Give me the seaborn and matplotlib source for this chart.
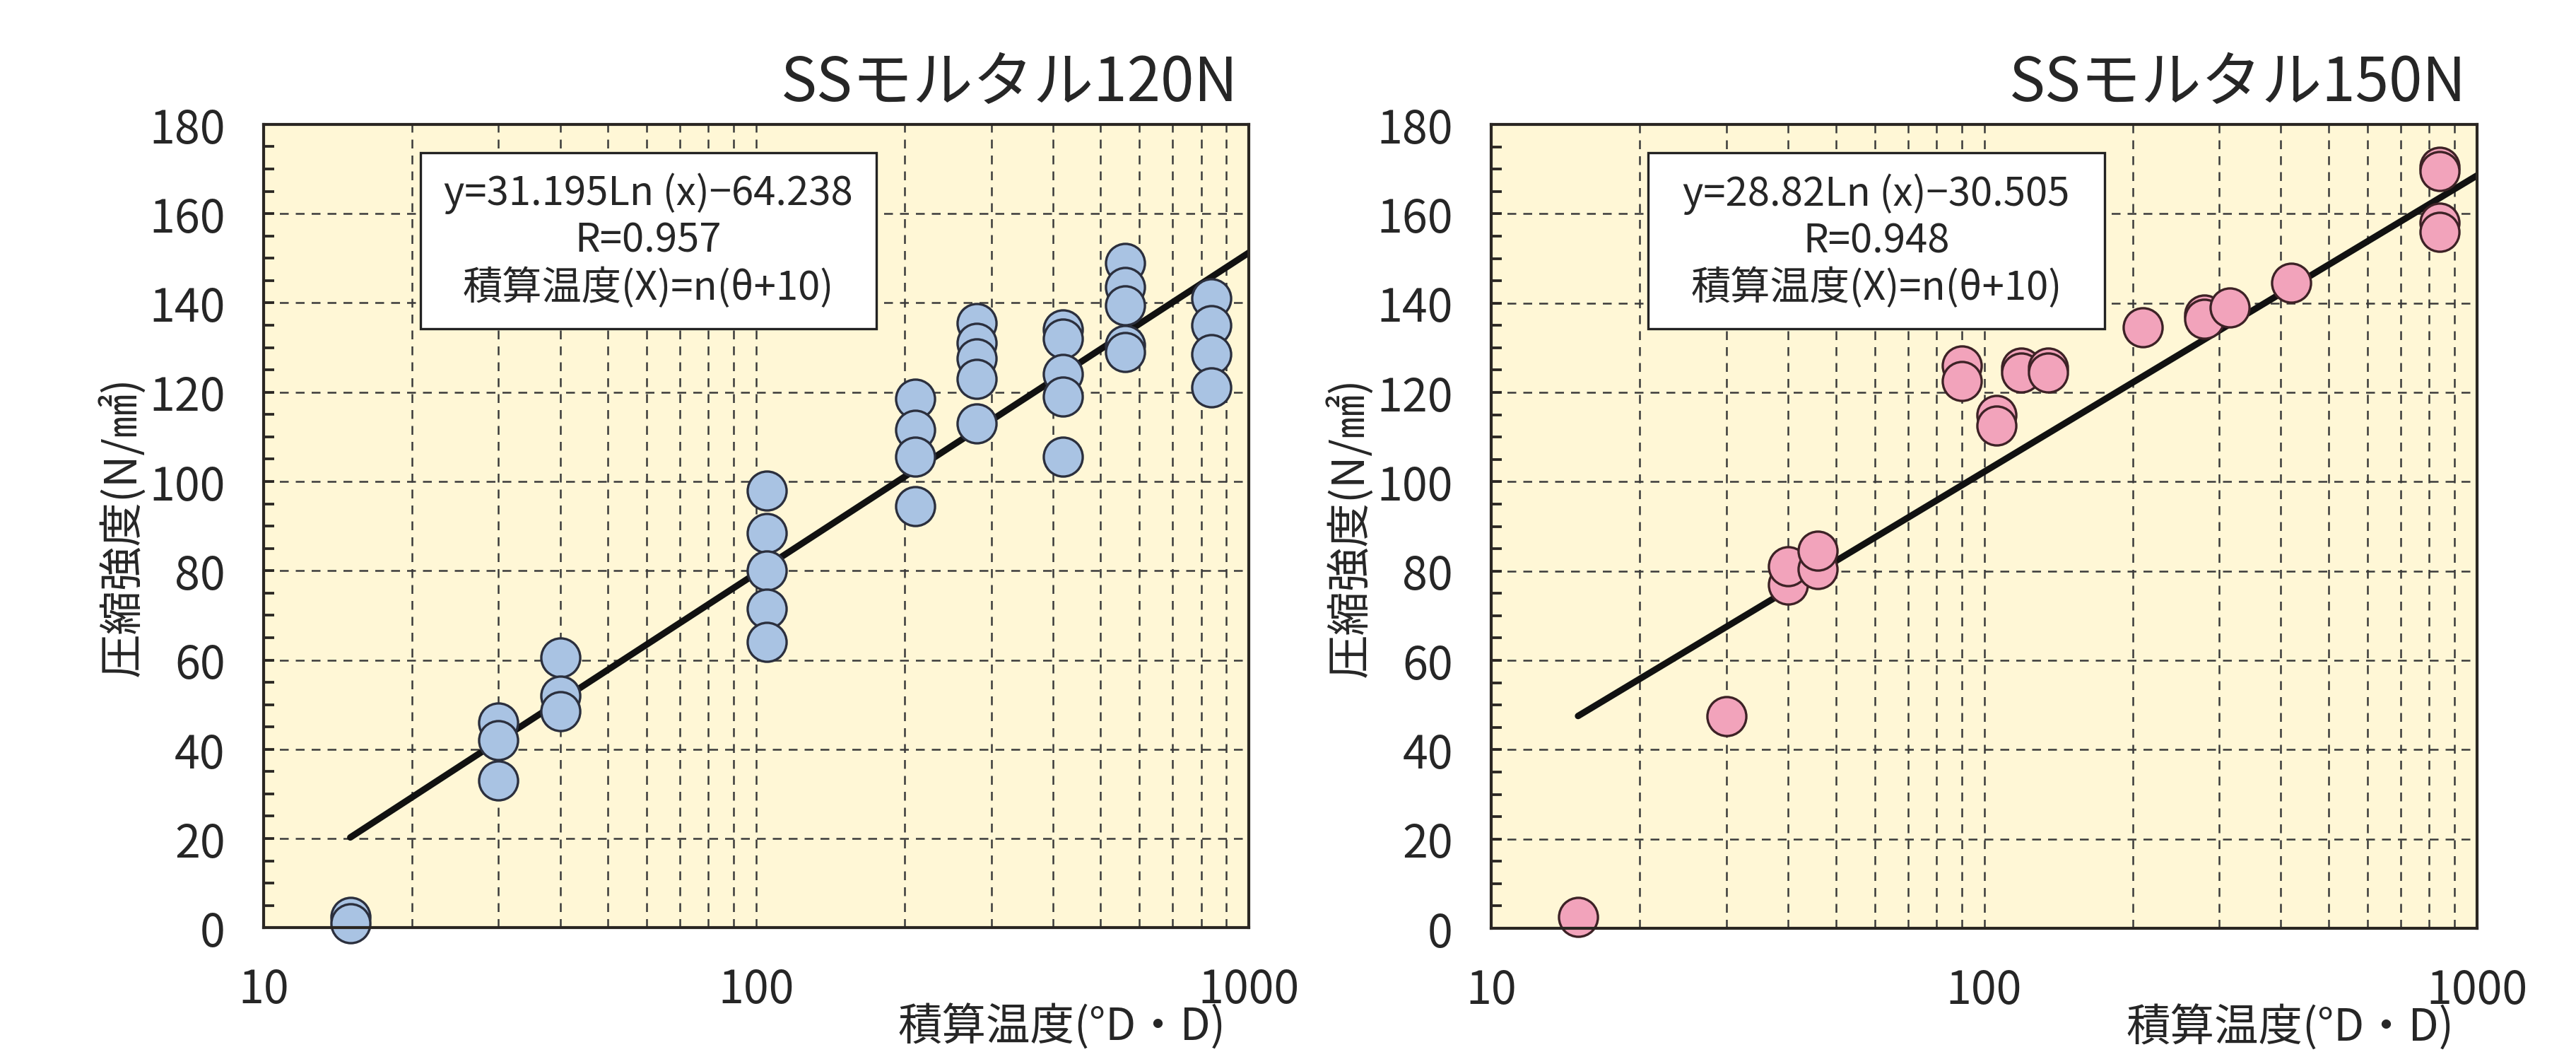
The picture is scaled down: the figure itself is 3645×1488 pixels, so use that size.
import numpy as np
import pandas as pd
import matplotlib.pyplot as plt
import seaborn as sns
from matplotlib.ticker import MultipleLocator, LogLocator, NullFormatter
from matplotlib.patches import Rectangle

sns.set_style("white")
plt.rcParams["font.family"] = ["Noto Sans CJK JP", "DejaVu Sans"]

# SSモルタル120N (読み取り値)
x_120 = [15, 15, 30, 30, 30, 40, 40, 40, 105, 105, 105, 105, 105,
         210, 210, 210, 210, 280, 280, 280, 280, 280,
         420, 420, 420, 420, 420, 560, 560, 560, 560, 560, 840, 840, 840, 840]
y_120 = [2.5, 1, 46, 42, 33, 60.5, 52, 48.5, 98, 88.5, 80, 71.5, 64,
         118.5, 111.5, 105.5, 94.5, 135.5, 131, 127.5, 123, 113,
         134, 132, 124, 119, 105.5, 149, 143.5, 139.5, 130.5, 129, 141, 135, 128.5, 121]

# SSモルタル150N (読み取り値)
x_150 = [15, 30, 40, 40, 46, 46, 90, 90, 106, 106, 119, 119, 135, 135,
         210, 280, 280, 315, 420, 840, 840, 840, 840]
y_150 = [2.5, 47.5, 77, 81, 80.5, 84.5, 126, 122.5, 115, 112.5, 125.5, 124.5, 125.5, 124.5,
         134.5, 137.5, 136.5, 139, 144.5, 170.5, 169.5, 158, 156]

# 近似式 y = a*Ln(x) + b
coef_120 = (31.195, -64.238)
coef_150 = (28.82, -30.505)
fit_x = [15, 1000]

titles = ["SSモルタル120N", "SSモルタル150N"]
box_texts = [
    "y=31.195Ln (x)−64.238\nR=0.957\n積算温度(X)=n(θ+10)",
    "y=28.82Ln (x)−30.505\nR=0.948\n積算温度(X)=n(θ+10)",
]
ylabel = "圧縮強度(N/㎟)"
xlabel = "積算温度(°D・D)"

bg = "#FFF7D6"
dark = "#2a2622"


def draw_panel(ax, xs, ys, coef, face, edge, title, box_text):
    ax.set_facecolor(bg)
    ax.set_xscale("log")

    fit = pd.DataFrame({"x": fit_x, "y": [coef[0] * np.log(v) + coef[1] for v in fit_x]})
    sns.lineplot(data=fit, x="x", y="y", ax=ax, color="#111111", linewidth=2.2, zorder=3)
    pts = pd.DataFrame({"x": xs, "y": ys})
    sns.scatterplot(data=pts, x="x", y="y", ax=ax, s=175, color=face,
                    edgecolor=edge, linewidth=0.8, zorder=4, clip_on=False)

    ax.set_xlim(10, 1000)
    ax.set_ylim(0, 180)
    ax.set_xticks([10, 100, 1000], labels=["10", "100", "1000"])
    ax.xaxis.set_minor_locator(LogLocator(subs=range(2, 10)))
    ax.xaxis.set_minor_formatter(NullFormatter())
    ax.set_yticks(range(0, 181, 20))
    ax.yaxis.set_minor_locator(MultipleLocator(5))

    ax.set_axisbelow(True)
    grid_kw = dict(linestyle=(0, (5, 4)), linewidth=0.6, color="#3a3a3a")
    ax.grid(True, which="both", axis="x", **grid_kw)
    ax.grid(True, which="major", axis="y", **grid_kw)

    ax.tick_params(axis="y", which="both", direction="in", length=3.6, width=0.9,
                   color=dark, left=True, labelsize=15.5, pad=13)
    ax.tick_params(axis="x", which="both", length=0, labelsize=15.5, pad=13)
    for s in ax.spines.values():
        s.set_linewidth(1.0)
        s.set_color(dark)
        s.set_zorder(6)

    ax.set_xlabel("")
    ax.set_ylabel("")
    ax.text(-0.144, 0.5, ylabel, rotation=90, ha="center", va="center",
            transform=ax.transAxes, fontsize=15)
    ax.text(0.81, -0.152, xlabel, ha="center", va="bottom",
            transform=ax.transAxes, fontsize=15)
    ax.text(0.989, 1.030, title, ha="right", va="baseline",
            transform=ax.transAxes, fontsize=20.5)

    ax.add_patch(Rectangle((0.159, 0.746), 0.463, 0.219, transform=ax.transAxes,
                           facecolor="white", edgecolor="#222222", linewidth=0.8, zorder=5))
    ax.text(0.3905, 0.8555, box_text, ha="center", va="center", transform=ax.transAxes,
            fontsize=13.5, linespacing=1.2, zorder=6)


fig = plt.figure(figsize=(12.15, 4.9633))
ax1 = fig.add_axes([0.1023, 0.1180, 0.3825, 0.7632])
ax2 = fig.add_axes([0.5789, 0.1175, 0.3827, 0.7636])

draw_panel(ax1, x_120, y_120, coef_120, "#A9C3E3", "#2b2f3d", titles[0], box_texts[0])
draw_panel(ax2, x_150, y_150, coef_150, "#F2A3BB", "#3d2226", titles[1], box_texts[1])

fig.savefig("out.png", dpi=300)
